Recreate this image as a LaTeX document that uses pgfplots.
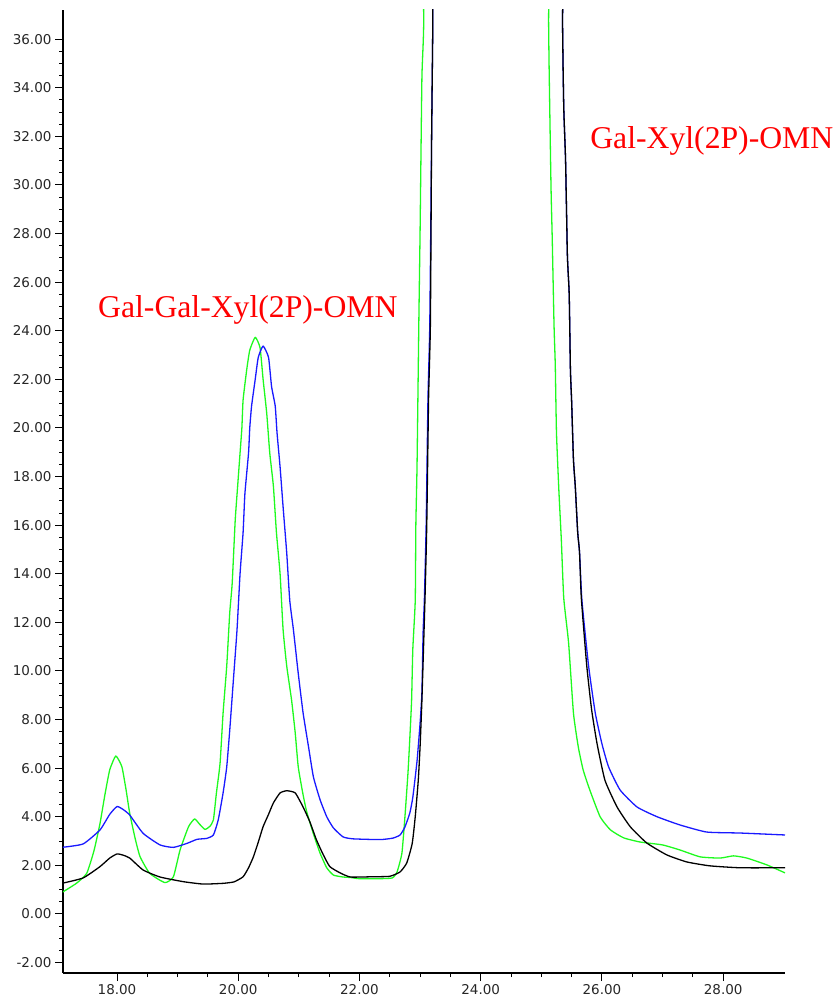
\documentclass[border=0pt]{standalone}
\usepackage{pgfplots}
\pgfplotsset{compat=1.18}
\usepackage{fontspec}
\setmainfont{Liberation Serif}
\newfontfamily\tickfont{DejaVu Sans}
\definecolor{cgreen}{RGB}{30,250,30}
\definecolor{cblue}{RGB}{25,25,255}
\begin{document}
\begin{tikzpicture}
\begin{axis}[
  scale only axis,
  width=722pt, height=963pt,
  xmin=17.109, xmax=29.02,
  ymin=-2.43, ymax=37.2,
  axis lines=left,
  axis line style={-, line width=1.2pt, black},
  clip mode=individual,
  xtick={18,20,22,24,26,28},
  ytick={-2,0,2,4,6,8,10,12,14,16,18,20,22,24,26,28,30,32,34,36},
  minor x tick num=3,
  minor y tick num=3,
  tick align=outside,
  major tick length=8pt,
  minor tick length=4pt,
  tick style={black, line width=1pt},
  every axis plot/.append style={line width=1.3pt, line join=round, smooth, tension=0.3},
  /pgf/number format/.cd, fixed, fixed zerofill, precision=2, assume math mode=true, 1000 sep={},
  /pgfplots/.cd,
  ticklabel style={font=\fontsize{13.5}{16}\tickfont, text=black!85},
]
% green
\addplot[cgreen] coordinates {
(17.09,0.88)(17.33,1.26)(17.5,1.67)(17.62,2.6)(17.72,3.73)(17.8,4.9)(17.88,5.93)(17.98,6.5)
(18.08,6.06)(18.15,5.1)(18.21,4.14)(18.3,3.1)(18.38,2.36)(18.54,1.67)(18.79,1.29)(18.93,1.53)
(19.04,2.63)(19.18,3.59)(19.28,3.91)(19.36,3.7)(19.45,3.48)(19.53,3.6)(19.59,3.87)(19.64,4.98)
(19.7,6.2)(19.75,8.27)(19.81,10.2)(19.86,12.4)(19.9,13.6)(19.95,16.2)(19.99,17.6)(20.03,18.97)
(20.06,20.0)(20.08,21.15)(20.14,22.4)(20.19,23.2)(20.28,23.73)(20.36,23.3)(20.41,22.0)(20.47,20.6)
(20.52,18.97)(20.58,17.6)(20.63,15.7)(20.69,14.0)(20.74,11.7)(20.8,10.2)(20.88,8.8)(20.94,7.45)
(20.99,6.05)(21.07,4.9)(21.13,4.2)(21.24,3.3)(21.35,2.5)(21.46,1.9)(21.57,1.6)(21.73,1.52)
(21.85,1.5)(22.0,1.45)(22.3,1.45)(22.54,1.48)(22.62,1.73)(22.7,2.5)(22.75,4.0)(22.8,5.8)
(22.83,7.2)(22.86,8.8)(22.88,10.9)(22.92,12.9)(22.93,16.0)(22.95,18.5)(22.98,24.5)(23.0,28.1)
(23.03,34.4)(23.06,36.7)(23.08,45)(24.1,80)(25.09,45)(25.12,36.7)(25.13,34.6)(25.16,29.9)
(25.18,27.8)(25.21,24.2)(25.23,22.6)(25.25,19.8)(25.29,17.4)(25.33,15.4)(25.37,13.0)(25.45,11.15)
(25.53,8.27)(25.61,6.87)(25.69,5.93)(25.80,5.1)(25.97,4.0)(26.14,3.46)(26.36,3.13)(26.63,2.96)
(27.0,2.84)(27.29,2.63)(27.62,2.35)(27.95,2.3)(28.17,2.39)(28.39,2.3)(28.72,2.02)(29.02,1.69)
};
% blue
\addplot[cblue] coordinates {
(17.09,2.74)(17.44,2.88)(17.72,3.46)(17.88,4.1)(18.0,4.42)(18.1,4.3)(18.21,4.07)(18.43,3.32)
(18.71,2.84)(18.93,2.74)(19.15,2.9)(19.32,3.07)(19.48,3.11)(19.59,3.25)(19.67,3.87)(19.75,4.98)
(19.81,6.05)(19.86,7.57)(19.92,9.63)(19.98,11.7)(20.03,14.0)(20.08,15.7)(20.11,17.3)(20.17,18.97)
(20.19,20.0)(20.22,20.9)(20.28,22.0)(20.33,22.9)(20.41,23.37)(20.5,22.9)(20.55,21.7)(20.61,20.9)
(20.64,19.8)(20.69,18.4)(20.74,16.75)(20.8,14.85)(20.85,12.9)(20.91,11.7)(20.99,9.9)(21.07,8.27)
(21.16,6.87)(21.24,5.64)(21.35,4.7)(21.46,4.0)(21.57,3.54)(21.73,3.17)(21.9,3.09)(22.34,3.06)
(22.55,3.12)(22.67,3.25)(22.75,3.58)(22.83,4.15)(22.88,4.8)(22.95,6.3)(23.0,7.86)(23.03,9.1)
(23.05,11.6)(23.07,12.9)(23.1,16.0)(23.13,21.2)(23.16,24.3)(23.19,31.9)(23.21,36.8)(23.23,45)
(24.3,80)(25.33,45)(25.35,36.7)(25.37,33.2)(25.40,31.0)(25.43,27.1)(25.46,25.5)(25.48,22.4)
(25.50,21.1)(25.53,18.7)(25.56,17.6)(25.6,15.7)(25.63,14.9)(25.67,12.9)(25.78,10.2)(25.89,8.27)
(26.0,7.0)(26.11,6.05)(26.3,5.1)(26.58,4.4)(26.91,4.0)(27.29,3.66)(27.73,3.37)(28.28,3.33)(29.02,3.25)
};
% black
\addplot[black] coordinates {
(17.09,1.26)(17.44,1.48)(17.72,1.95)(17.88,2.3)(18.0,2.47)(18.1,2.42)(18.21,2.3)(18.43,1.81)
(18.71,1.52)(19.09,1.33)(19.42,1.23)(19.75,1.26)(19.93,1.32)(20.08,1.53)(20.17,1.9)(20.25,2.35)
(20.33,2.95)(20.41,3.59)(20.5,4.1)(20.58,4.57)(20.69,4.98)(20.8,5.07)(20.94,4.98)(21.07,4.4)
(21.18,3.8)(21.29,3.05)(21.4,2.45)(21.51,1.95)(21.68,1.69)(21.85,1.52)(22.2,1.53)(22.5,1.55)
(22.67,1.73)(22.78,2.1)(22.87,2.9)(22.92,4.0)(22.97,5.5)(23.0,6.9)(23.03,8.8)(23.08,12.9)
(23.11,16.0)(23.14,21.2)(23.17,24.3)(23.19,31.9)(23.21,36.8)(23.23,45)(24.3,80)(25.33,45)
(25.35,36.7)(25.37,33.2)(25.40,31.0)(25.43,27.1)(25.46,25.5)(25.48,22.4)(25.50,21.1)(25.53,18.7)
(25.56,17.6)(25.6,15.7)(25.63,14.9)(25.66,13.0)(25.75,10.2)(25.83,8.4)(25.92,7.0)(26.05,5.5)
(26.25,4.4)(26.47,3.58)(26.74,2.92)(27.07,2.43)(27.4,2.14)(27.78,1.98)(28.28,1.9)(29.02,1.9)
};
\node[anchor=base west, inner sep=0pt, text=red, font=\fontsize{31.7}{36}\selectfont] at (axis cs:17.686,24.53) {Gal-Gal-Xyl(2P)-OMN};
\node[anchor=base west, inner sep=0pt, text=red, font=\fontsize{31.7}{36}\selectfont] at (axis cs:25.805,31.52) {Gal-Xyl(2P)-OMN};
\end{axis}
\pgfresetboundingbox
\path (current axis.south west) ++(-63pt,-29pt) rectangle ++(839pt,1002pt);
\end{tikzpicture}
\end{document}
